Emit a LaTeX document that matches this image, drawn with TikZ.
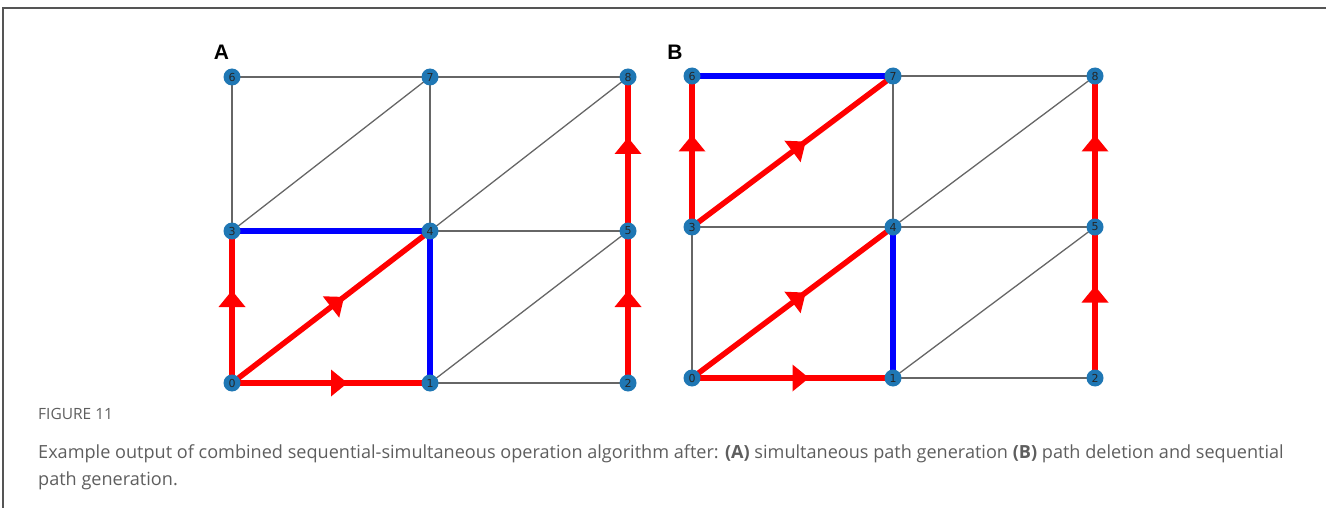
\documentclass[tikz,border=0pt]{standalone}
\usepackage{fontspec}
\setmainfont{Open Sans}
\newfontfamily\labfont{Liberation Sans}
\newfontfamily\numfont{DejaVu Sans}
\usetikzlibrary{decorations.markings,backgrounds}
\definecolor{nodeblue}{HTML}{1F77B4}
\definecolor{edgegray}{HTML}{666666}
\definecolor{capgray}{HTML}{5E5E5E}
\definecolor{framegray}{HTML}{555555}
\tikzset{
  vtx/.style={circle,fill=nodeblue,minimum size=17pt,inner sep=0pt,font=\numfont\fontsize{11}{11}\selectfont,text=black!85},
  gedge/.style={draw=edgegray,line width=1.3pt},
  bedge/.style={draw=blue,line width=5.5pt},
  redge/.style={draw=red,line width=5.5pt},
  aedge/.style={redge,postaction={decorate,decoration={markings,
     mark=at position 0.5 with {\fill[red] (0,-13.5) -- (16.5,0) -- (0,13.5) -- cycle;}}}},
  panel/.style={font=\labfont\bfseries\fontsize{21}{21}\selectfont,text=black},
  captxt/.style={anchor=base west,inner sep=0pt,text=capgray,font=\fontsize{18.1}{22}\selectfont},
}
\begin{document}
\begin{tikzpicture}[x=1pt,y=-1pt]
\useasboundingbox (0,0) rectangle (1326,508);
\draw[framegray,line width=1.5pt] (1326,8) -- (3,8) -- (3,508);
% panel A
\node[panel] (labA) at (221.5,52) {A};
\foreach \n/\x/\y in {0/232/383,1/430/383,2/628/383,3/232/231,4/430/231,5/628/231,6/232/77,7/430/77,8/628/77}
  \node[vtx] (a\n) at (\x,\y) {\n};
% panel B
\node[panel] (labB) at (675,52) {B};
\foreach \n/\x/\y in {0/692/378,1/893/378,2/1095/378,3/692/227,4/893/227,5/1095/227,6/692/76,7/893/76,8/1095/76}
  \node[vtx] (b\n) at (\x,\y) {\n};
\begin{pgfonlayer}{background}
  % A gray
  \foreach \s/\t in {6/7,7/8,6/3,3/7,7/4,4/8,4/5,1/5,1/2}
    \draw[gedge] (a\s.center) -- (a\t.center);
  \draw[bedge] (a3.center) -- (a4.center);
  \draw[bedge] (a4.center) -- (a1.center);
  \foreach \s/\t in {0/3,0/4,0/1,2/5,5/8}
    \draw[aedge] (a\s.center) -- (a\t.center);
  % B gray
  \foreach \s/\t in {7/8,7/4,4/8,3/4,3/0,4/5,1/5,1/2}
    \draw[gedge] (b\s.center) -- (b\t.center);
  \draw[bedge] (b6.center) -- (b7.center);
  \draw[bedge] (b4.center) -- (b1.center);
  \foreach \s/\t in {3/6,3/7,0/4,0/1,2/5,5/8}
    \draw[aedge] (b\s.center) -- (b\t.center);
\end{pgfonlayer}
% caption
\node[captxt,font=\fontsize{15.5}{18}\selectfont] (fig) at (38,419) {FIGURE 11};
\node[captxt] (cap1) at (38,458) {Example output of combined sequential-simultaneous operation algorithm after: \textbf{(A)} simultaneous path generation \textbf{(B)} path deletion and sequential};
\node[captxt] (cap2) at (38,485) {path generation.};
\end{tikzpicture}
\end{document}
